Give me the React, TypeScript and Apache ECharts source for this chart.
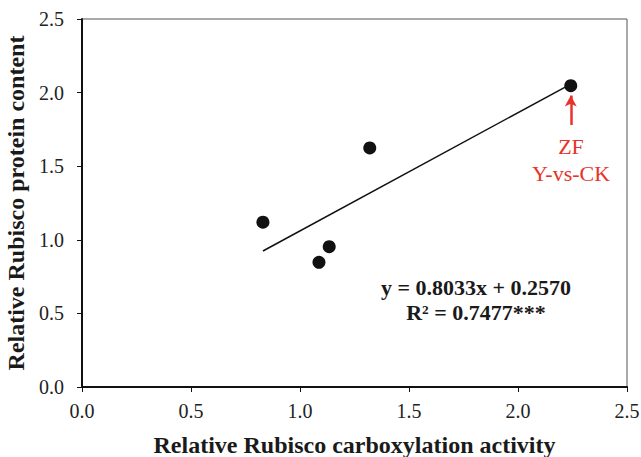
import React, { useEffect, useRef } from "react";
import * as echarts from "echarts";

const pointsX = [0.83, 1.087, 1.134, 1.32, 2.242];
const pointsY = [1.12, 0.847, 0.953, 1.624, 2.047];
const fitX = [0.83, 2.242];
const fitY = [0.924, 2.058];
const arrowX = [2.242, 2.242];
const arrowY = [1.78, 1.98];
const xTicks = ["0.0", "0.5", "1.0", "1.5", "2.0", "2.5"];
const yTicks = ["0.0", "0.5", "1.0", "1.5", "2.0", "2.5"];

const FONT = "'Liberation Serif', 'Times New Roman', serif";

export default function App() {
  const ref = useRef<HTMLDivElement>(null);
  useEffect(() => {
    if (!ref.current) return;
    const chart = echarts.init(ref.current, null, { renderer: "svg" });
    chart.setOption({
      animation: false,
      backgroundColor: "#fff",
      grid: {
        left: 82,
        top: 19,
        right: 14,
        bottom: 70,
        containLabel: false,
        outerBoundsMode: "none",
        show: true,
        borderColor: "#555",
        borderWidth: 1,
      },
      xAxis: {
        type: "value",
        min: 0,
        max: 2.5,
        interval: 0.5,
        name: "Relative Rubisco carboxylation activity",
        nameLocation: "middle",
        nameGap: 46,
        nameTextStyle: { fontFamily: FONT, fontWeight: "bold", fontSize: 24, color: "#1a1a1a" },
        axisLine: { show: true, onZero: false, lineStyle: { color: "#111", width: 2 } },
        axisTick: { show: true, inside: false, length: 5, lineStyle: { color: "#111", width: 1 } },
        axisLabel: {
          fontFamily: FONT,
          fontSize: 20,
          color: "#222",
          margin: 14,
          formatter: (v: number) => xTicks[Math.round(v / 0.5)] ?? "",
        },
        splitLine: { show: false },
      },
      yAxis: {
        type: "value",
        min: 0,
        max: 2.5,
        interval: 0.5,
        name: "Relative Rubisco protein content",
        nameLocation: "middle",
        nameGap: 50,
        nameTextStyle: { fontFamily: FONT, fontWeight: "bold", fontSize: 24, color: "#1a1a1a" },
        axisLine: { show: true, onZero: false, lineStyle: { color: "#111", width: 2 } },
        axisTick: { show: true, inside: false, length: 5, lineStyle: { color: "#111", width: 1 } },
        axisLabel: {
          fontFamily: FONT,
          fontSize: 20,
          color: "#222",
          margin: 18,
          formatter: (v: number) => yTicks[Math.round(v / 0.5)] ?? "",
        },
        splitLine: { show: false },
      },
      series: [
        {
          type: "line",
          data: fitX.map((x, i) => [x, fitY[i]]),
          symbol: "none",
          lineStyle: { color: "#111", width: 1.5 },
          z: 2,
        },
        {
          type: "scatter",
          data: pointsX.map((x, i) => [x, pointsY[i]]),
          symbol: "circle",
          symbolSize: 13,
          itemStyle: { color: "#111", opacity: 1 },
          z: 3,
        },
        {
          type: "line",
          data: [],
          markLine: {
            silent: true,
            symbol: ["none", "arrow"],
            symbolSize: [9, 11],
            label: { show: false },
            lineStyle: { color: "#e8332a", width: 2.5, type: "solid" },
            data: [
              [
                { coord: [arrowX[0], arrowY[0]] },
                { coord: [arrowX[1], arrowY[1]] },
              ],
            ],
          },
        },
      ],
      graphic: [
        {
          type: "text",
          x: 571,
          y: 146,
          style: {
            text: "ZF",
            fill: "#e8332a",
            font: `22px ${FONT}`,
            textAlign: "center",
            textVerticalAlign: "middle",
          },
        },
        {
          type: "text",
          x: 571,
          y: 173,
          style: {
            text: "Y-vs-CK",
            fill: "#e8332a",
            font: `22px ${FONT}`,
            textAlign: "center",
            textVerticalAlign: "middle",
          },
        },
        {
          type: "text",
          x: 476,
          y: 287,
          style: {
            text: "y = 0.8033x + 0.2570",
            fill: "#1a1a1a",
            font: `bold 22px ${FONT}`,
            textAlign: "center",
            textVerticalAlign: "middle",
          },
        },
        {
          type: "text",
          x: 476,
          y: 312,
          style: {
            text: "R² = 0.7477***",
            fill: "#1a1a1a",
            font: `bold 22px ${FONT}`,
            textAlign: "center",
            textVerticalAlign: "middle",
          },
        },
      ],
    });
    return () => chart.dispose();
  }, []);
  return <div ref={ref} style={{ width: 641, height: 457, position: "absolute", left: 0, top: 0 }} />;
}
